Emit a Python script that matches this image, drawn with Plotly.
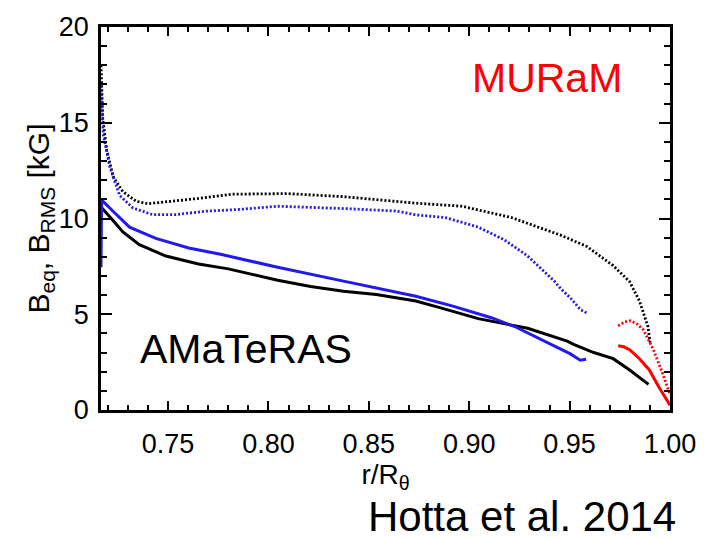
import plotly.graph_objects as go

# AMaTeRAS, black solid
blk_sol_x = [0.7166, 0.719, 0.7226, 0.7275, 0.7357, 0.7489, 0.7652, 0.7800, 0.7931, 0.8046,
             0.8210, 0.8374, 0.8537, 0.8734, 0.8849, 0.9045, 0.9291, 0.9422, 0.9488, 0.9520,
             0.9620, 0.9717, 0.9799, 0.9893]
blk_sol_y = [10.6, 10.3, 9.9, 9.3, 8.63, 8.04, 7.62, 7.37, 7.04, 6.78,
             6.45, 6.2, 6.03, 5.69, 5.36, 4.77, 4.27, 3.85, 3.6, 3.43,
             3.0, 2.68, 2.09, 1.34]

# AMaTeRAS, blue solid
blu_sol_x = [0.7166, 0.7169, 0.7226, 0.7308, 0.7439, 0.7603, 0.7767, 0.7931, 0.8046, 0.8374,
             0.8636, 0.8734, 0.8914, 0.9110, 0.9226, 0.9373, 0.9422, 0.9504, 0.9553, 0.9582]
blu_sol_y = [7.45, 10.97, 10.38, 9.55, 8.96, 8.46, 8.12, 7.74, 7.45, 6.73,
             6.16, 5.94, 5.44, 4.82, 4.36, 3.6, 3.35, 2.93, 2.6, 2.65]

# AMaTeRAS, black dotted
blk_dot_x = [0.7166, 0.7175, 0.7194, 0.7226, 0.7275, 0.7341, 0.7398, 0.7520, 0.7652, 0.7816,
             0.8046, 0.8095, 0.8374, 0.8636, 0.8734, 0.8964, 0.9210, 0.9455, 0.9586, 0.9717,
             0.9799, 0.9848, 0.9890, 0.9901]
blk_dot_y = [18.0, 15.2, 13.6, 12.2, 11.4, 10.9, 10.77, 10.9, 11.05, 11.27,
             11.3, 11.3, 11.14, 10.9, 10.8, 10.64, 10.05, 9.13, 8.54, 7.54,
             6.7, 5.69, 4.36, 3.52]

# AMaTeRAS, blue dotted
blu_dot_x = [0.7166, 0.7177, 0.7210, 0.7259, 0.7325, 0.7423, 0.7538, 0.7685, 0.7849, 0.8046,
             0.8374, 0.8636, 0.8734, 0.8881, 0.9045, 0.9176, 0.9291, 0.9373, 0.9422, 0.9455,
             0.9504, 0.9553, 0.9586]
blu_dot_y = [16.9, 14.4, 12.7, 11.2, 10.55, 10.2, 10.2, 10.38, 10.47, 10.64,
             10.52, 10.39, 10.19, 10.05, 9.55, 8.88, 8.04, 7.2, 6.75, 6.35,
             5.85, 5.25, 5.06]

# MURaM, red dotted
red_dot_x = [0.9742, 0.9775, 0.9803, 0.9835, 0.9867, 0.9916, 0.9966, 0.9998]
red_dot_y = [4.39, 4.6, 4.66, 4.5, 4.19, 3.18, 1.84, 0.84]

# MURaM, red solid
red_sol_x = [0.9742, 0.9770, 0.9799, 0.9848, 0.9897, 0.9946, 1.0]
red_sol_y = [3.35, 3.3, 3.15, 2.68, 2.09, 1.17, 0.25]

x_ticks = [0.75, 0.80, 0.85, 0.90, 0.95, 1.00]
x_tick_text = ["0.75", "0.80", "0.85", "0.90", "0.95", "1.00"]
y_ticks = [0, 5, 10, 15, 20]

BLUE = "rgb(35,25,235)"
RED = "rgb(255,0,0)"
FONT = "Liberation Sans, Arial, sans-serif"

fig = go.Figure()
series = [
    (blk_dot_x, blk_dot_y, "black", "2px,2px"),
    (blu_dot_x, blu_dot_y, BLUE, "2px,2px"),
    (blk_sol_x, blk_sol_y, "black", "solid"),
    (blu_sol_x, blu_sol_y, BLUE, "solid"),
    (red_dot_x, red_dot_y, RED, "2px,2px"),
    (red_sol_x, red_sol_y, RED, "solid"),
]
for xs, ys, c, d in series:
    fig.add_trace(go.Scatter(x=xs, y=ys, mode="lines",
                             line=dict(color=c, width=3 if d == "solid" else 2.8, dash=d),
                             showlegend=False, hoverinfo="skip"))

axis_common = dict(showline=True, linecolor="black", linewidth=2.5, mirror="ticks",
                   ticks="inside", tickcolor="black", tickwidth=2, showgrid=False,
                   zeroline=False, tickfont=dict(family=FONT, size=27, color="black"))

fig.update_xaxes(range=[0.7166, 1.0], tickvals=x_ticks, ticktext=x_tick_text, ticklen=9,
                 minor=dict(dtick=0.01, tick0=0.75, ticks="inside", ticklen=5, tickwidth=2,
                            tickcolor="black", showgrid=False),
                 title=dict(text="r/R<sub>θ</sub>", font=dict(family=FONT, size=28, color="black"),
                            standoff=4),
                 ticklabelstandoff=8,
                 **axis_common)
fig.update_yaxes(range=[0, 20], tickvals=y_ticks, ticklen=11,
                 minor=dict(dtick=1, tick0=0, ticks="inside", ticklen=6, tickwidth=2,
                            tickcolor="black", showgrid=False),
                 title=dict(text="B<sub>eq</sub>, B<sub>RMS</sub> [kG]",
                            font=dict(family=FONT, size=30, color="black"), standoff=1),
                 ticklabelstandoff=4,
                 **axis_common)

fig.add_annotation(x=0.7348, y=3.17, xref="x", yref="y", text="AMaTeRAS", showarrow=False,
                   xanchor="left", yanchor="middle", font=dict(family=FONT, size=41, color="black"))
fig.add_annotation(x=0.9004, y=17.35, xref="x", yref="y", text="MURaM", showarrow=False,
                   xanchor="left", yanchor="middle", font=dict(family=FONT, size=41, color=RED))
fig.add_annotation(x=0.74, y=-0.279, xref="paper", yref="paper", text="Hotta et al. 2014",
                   showarrow=False, xanchor="center", yanchor="middle",
                   font=dict(family=FONT, size=42, color="black"))

fig.update_layout(width=708, height=540, margin=dict(l=101, r=30, t=12, b=130),
                  plot_bgcolor="white", paper_bgcolor="white")
fig.write_html("out.html")
